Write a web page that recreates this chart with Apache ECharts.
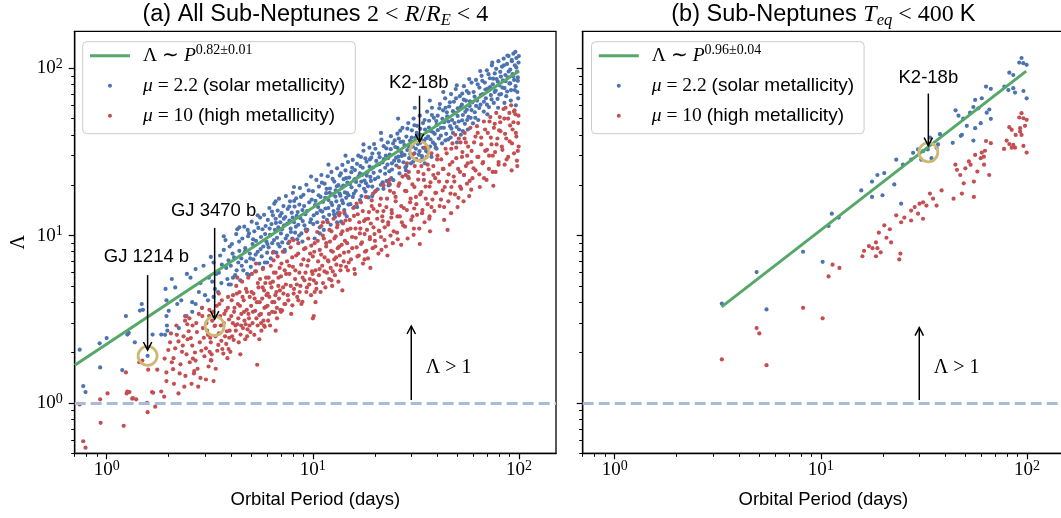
<!DOCTYPE html>
<html><head><meta charset="utf-8">
<script src="https://cdn.jsdelivr.net/npm/echarts@6.0.0/dist/echarts.min.js"></script>
<style>html,body{margin:0;padding:0;background:#fff}#c{width:1061px;height:518px}</style>
</head><body><div id="c"></div>
<script>
// ---------- data ----------
const xMajor = [1, 10, 100];
const yMajor = [1, 10, 100];
const xMinor = [0.7,0.8,0.9,2,3,4,5,6,7,8,9,20,30,40,50,60,70,80,90];
const yMinor = [0.5,0.6,0.7,0.8,0.9,2,3,4,5,6,7,8,9,20,30,40,50,60,70,80,90];
const xRange = [0.7, 151];
const yRange = [0.5, 166];
const threshold = 1;

const blueA = [
[0.74,2.08],[0.77,1.26],[0.79,1.16],[0.925,2.27],[0.93,1.63],[1.0,2.44],
[1.19,1.57],[1.24,3.3],[1.26,2.56],[1.28,2.62],[1.37,2.3],[1.45,3.56],[1.48,3.9],
[1.5,3.6],[1.58,1.91],[1.67,2.56],[1.84,2.56],[1.92,2.55],[1.93,4.8],[1.95,4.1],[1.95,3.3],[1.96,2.9],[1.97,2.7],
[2.0,3.55],[2.07,5.5],[2.15,4.9],[2.2,3.9],[2.24,2.8],[2.3,4.1],[2.44,3.3],[2.45,5.9],[2.55,5.6],[2.6,4.0],[2.6,3.5],[2.7,6.3],[2.7,3.9],[2.8,4.6],[2.85,5.2],[2.9,3.7],[2.95,6.6],
[3.0,4.4],[3.1,4.1],[3.2,7.45],[3.25,5.3],[3.3,6.9],[3.35,4.8],[3.4,5.9],[3.5,6.0],[3.55,7.6],[3.6,5.2],[3.7,8.2],[3.77,9.4],[3.8,6.4],[3.85,5.5],[3.9,7.1],[3.95,8.6],
[4.0,6.6],[4.05,8.9],[4.1,5.6],[4.15,7.4],[4.2,5.8],[4.25,10.2],[4.3,10.9],[4.35,6.9],[4.4,8.1],[4.45,5.4],[4.5,7.3],[4.55,9.6],[4.6,6.2],[4.65,11.3],[4.7,8.4],[4.75,7.0],[4.8,5.9],[4.85,9.9],[4.9,10.3],[4.95,7.8],[5.0,6.5],[5.05,12.1],[5.1,8.9],[5.15,7.2],[5.2,10.6],[5.25,6.1],[5.3,9.3],[5.35,11.8],[5.4,8.0],[5.5,6.8],[5.55,12.8],[5.6,9.8],[5.65,7.5],[5.7,10.9],[5.75,8.6],[5.8,13.3],[5.85,6.9],[5.9,11.4],[5.95,9.2],[6.0,7.9],
[6.05,12.4],[6.1,8.5],[6.15,14.6],[6.2,10.1],[6.25,7.3],[6.3,11.7],[6.35,9.0],[6.4,13.2],[6.45,8.0],[6.5,15.5],[6.55,10.8],[6.6,12.6],[6.65,7.9],[6.7,9.7],[6.75,14.1],[6.8,11.2],[6.85,16.6],[6.9,8.6],[6.95,12.0],[7.0,10.3],[7.05,13.6],[7.1,9.1],[7.2,15.0],[7.25,11.5],[7.3,8.2],[7.35,12.9],[7.4,17.2],[7.5,10.0],[7.55,14.4],[7.6,9.0],[7.7,12.3],[7.75,16.0],[7.8,11.0],[7.9,13.7],[7.95,9.6],[8.0,18.0],[8.1,12.0],[8.15,14.9],[8.2,10.4],[8.3,16.7],[8.35,13.1],[8.4,9.5],[8.5,11.6],[8.6,15.3],[8.65,19.2],[8.7,12.7],[8.8,10.3],[8.9,14.2],[9.0,17.5],[9.1,11.5],[9.2,13.4],[9.3,20.1],[9.4,10.8],[9.6,15.8],[9.8,12.5],
[10.0,18.4],[10.1,13.2],[10.2,9.6],[10.3,16.1],[10.4,21.5],[10.5,12.0],[10.6,14.8],[10.7,19.6],[10.8,11.2],[10.9,17.0],[11.0,23.0],[11.1,13.9],[11.2,15.9],[11.3,10.8],[11.4,20.4],[11.5,14.5],[11.6,17.9],[11.7,12.4],[11.8,22.6],[11.9,16.3],[12.0,13.3],[12.1,19.1],[12.2,11.6],[12.3,24.0],[12.4,15.2],[12.5,17.6],[12.6,14.0],[12.7,21.0],[12.8,12.9],[12.9,18.6],[13.0,16.0],[13.1,25.2],[13.2,13.6],[13.3,20.0],[13.4,15.0],[13.5,22.8],[13.6,17.3],[13.7,12.1],[13.8,19.3],[13.9,26.4],[14.0,15.6],[14.1,21.7],[14.2,14.2],[14.3,18.1],[14.4,24.5],[14.5,16.8],[14.6,13.0],[14.7,20.7],[14.8,27.5],[14.9,17.4],
[15.0,22.2],[15.2,15.4],[15.4,19.4],[15.6,28.3],[15.8,17.8],[16.0,24.6],[16.2,20.9],[16.4,14.8],[16.6,30.0],[16.8,19.9],[17.0,26.0],[17.2,17.2],[17.4,23.1],[17.6,32.1],[17.8,21.3],[18.0,18.3],[18.2,27.6],[18.4,24.0],[18.6,16.9],[18.8,33.5],[19.0,22.4],[19.2,29.2],[19.4,19.6],[19.6,25.5],[19.8,35.2],[20.0,21.7],[20.3,27.9],[20.6,18.9],[20.9,31.0],[21.2,24.3],[21.5,37.4],[21.8,20.8],[22.1,28.6],[22.4,23.4],[22.7,33.2],[23.0,26.5],[23.3,19.9],[23.6,30.4],[23.9,39.2],[24.2,24.8],[24.5,35.5],[24.8,28.0],[16.1,21.8],[17.1,29.5],[18.1,20.5],[19.1,24.9],[20.1,33.0],[21.0,26.7],[22.0,19.0],[23.1,36.0],[24.0,22.0],[15.5,25.4],[16.9,23.5],[18.9,28.5],[22.6,30.0],
[25.1,33.8],[25.4,26.2],[25.7,40.6],[26.0,29.6],[26.3,23.5],[26.6,36.2],[26.9,31.4],[27.2,44.0],[27.5,27.4],[27.8,34.7],[28.1,25.5],[28.4,39.0],[28.7,32.4],[29.0,47.0],[29.3,29.0],[29.6,36.9],[29.9,27.0],[30.2,42.5],[30.5,34.0],[30.8,50.0],[31.1,31.0],[31.4,38.5],[31.7,28.6],[32.0,45.2],[32.3,35.2],[32.9,31.9],[33.0,52.0],[33.4,40.0],[33.8,29.8],[34.2,47.0],[34.6,36.8],[35.0,43.0],[35.4,32.0],[35.8,55.0],[36.2,39.0],[36.6,48.5],[37.0,34.0],[37.4,42.0],[37.8,58.0],[38.2,36.0],[38.6,50.5],[39.0,40.5],[39.4,33.5],[39.8,45.8],[26.1,38.0],[28.9,22.5],[31.9,41.0],[34.9,27.0],[37.6,29.5],[33.2,35.8],
[40.3,52.0],[40.8,38.0],[41.3,61.0],[41.8,44.0],[42.3,35.5],[42.8,56.0],[43.3,47.5],[43.8,66.0],[44.3,40.5],[44.8,51.5],[45.3,37.5],[45.8,59.0],[46.3,45.0],[46.8,70.0],[47.3,49.0],[47.8,41.0],[48.3,63.0],[48.8,54.0],[49.3,75.0],[49.8,44.5],[50.4,57.5],[51.0,48.0],[51.6,68.0],[52.2,40.0],[52.8,60.5],[53.4,52.5],[54.0,78.0],[54.6,46.5],[55.2,64.0],[55.8,56.5],[56.4,43.0],[57.0,71.0],[57.6,59.5],[58.2,50.5],[58.8,82.0],[59.4,62.5],[44.0,58.0],[50.0,36.0],[53.0,70.5],[56.0,49.0],
[60.2,72.0],[61.0,54.5],[61.8,85.0],[62.6,64.0],[63.4,49.0],[64.2,76.5],[65.0,60.5],[65.8,90.0],[66.6,70.0],[67.4,55.0],[68.2,82.0],[69.0,66.0],[69.8,97.0],[70.6,75.5],[71.4,58.5],[72.2,87.0],[73.0,69.0],[73.8,104.0],[74.6,80.0],[75.4,62.0],[76.2,93.0],[77.0,73.5],[77.8,86.0],[78.6,65.5],[79.4,110.0],[80.2,79.0],[81.0,95.0],[81.8,70.0],[82.6,102.0],[83.4,84.5],[84.2,114.0],[85.0,76.0],[85.8,91.0],[86.6,68.0],[87.4,106.0],[88.2,88.0],[89.0,118.0],[89.8,81.0],[90.6,98.0],[91.4,74.0],[92.2,110.0],[93.0,92.0],[93.8,122.0],[94.6,85.0],[95.4,104.0],[96.2,78.0],[97.0,115.0],[97.8,95.5],[98.6,88.0],[99.4,108.0],[99.0,66.0],[96.5,60.0]
];

const blueA2 = [
[3.13,5.6],[3.47,4.6],[3.62,6.7],[3.91,5.1],[4.08,7.8],[4.27,6.2],[4.39,9.2],[4.52,6.6],[4.68,8.0],[4.83,10.8],[4.97,7.3],[5.13,9.5],[5.28,7.7],[5.44,11.1],[5.58,8.3],[5.73,6.4],[5.87,10.2],[6.02,8.9],[6.17,11.0],[6.33,13.9],[6.48,9.4],[6.62,11.9],[6.78,8.9],[6.93,13.1],[7.08,10.9],[7.23,12.6],[7.38,9.6],[7.52,11.8],[7.68,14.9],[7.83,10.5],[7.98,12.8],[8.12,16.1],[8.27,11.3],[8.44,13.8],[8.58,10.0],[8.76,17.0],[8.93,12.2],[9.07,15.0],[9.24,10.9],[9.38,14.0],[9.55,18.6],[9.71,12.0],[9.87,16.4],
[10.05,11.7],[10.24,15.2],[10.46,13.6],[10.67,17.4],[10.88,14.1],[11.06,20.7],[11.27,12.9],[11.48,16.8],[11.66,19.0],[11.88,14.6],[12.07,18.0],[12.28,15.7],[12.47,21.8],[12.68,13.4],[12.86,17.1],[13.07,19.7],[13.26,14.4],[13.48,17.8],[13.67,23.5],[13.86,16.2],[14.05,19.9],[14.27,13.5],[14.48,22.0],[14.66,17.9],[14.87,15.3],
[15.13,20.3],[15.37,23.9],[15.62,17.0],[15.88,21.6],[16.13,18.5],[16.37,26.8],[16.65,22.6],[16.91,16.3],[17.18,21.0],[17.44,25.4],[17.71,19.0],[17.97,28.9],[18.26,22.8],[18.52,19.7],[18.83,25.8],[19.12,21.2],[19.43,30.9],[19.71,23.7],[20.04,18.3],[20.38,26.3],[20.72,22.3],[21.07,29.4],[21.38,20.1],[21.74,27.3],[22.06,34.2],[22.43,25.4],[22.78,21.2],[23.14,29.0],[23.47,24.2],[23.85,32.8],[24.17,27.0],[24.56,21.4],[24.93,37.0],
[25.33,29.2],[25.72,33.4],[26.14,27.9],[26.52,42.3],[26.97,29.9],[27.38,36.4],[27.83,30.3],[28.27,24.5],[28.73,43.5],[29.18,34.1],[29.66,30.7],[30.13,38.5],[30.62,27.6],[31.08,45.6],[31.57,33.0],[32.12,39.5],[32.64,30.4],[33.17,43.4],[33.69,37.2],[34.26,33.4],[34.83,49.0],[35.37,38.0],[35.98,31.6],[36.54,44.2],[37.17,37.6],[37.77,52.5],[38.39,41.2],[39.05,35.0],[39.66,48.3],
[40.35,42.6],[41.04,57.5],[41.74,39.5],[42.46,49.8],[43.16,44.0],[43.92,37.0],[44.63,54.5],[45.42,48.0],[46.19,62.5],[46.98,43.5],[47.78,55.3],[48.63,47.0],[49.45,66.0],[50.33,51.8],[51.17,43.0],[52.08,58.6],[52.97,48.8],[53.91,64.8],[54.85,54.8],[55.78,73.0],[56.76,51.2],[57.74,63.4],[58.75,56.2],[59.77,46.8],
[60.83,67.5],[61.87,59.5],[62.98,80.0],[64.06,57.8],[65.18,69.0],[66.32,84.0],[67.48,63.0],[68.67,74.5],[69.85,60.5],[71.07,92.0],[72.33,77.0],[73.56,65.0],[74.86,86.5],[76.16,72.0],[77.46,99.0],[78.84,83.0],[80.21,69.5],[81.59,89.0],[83.03,76.5],[84.46,104.0],[85.92,83.5],[87.43,72.5],[88.96,95.5],[90.49,81.0],[92.07,112.0],[93.68,89.5],[95.32,74.0],[96.95,101.0],[98.64,84.0],[99.7,118.0],[98.1,72.0],[95.9,125.0],[91.2,64.0],[87.8,119.0],[84.9,62.0],[79.1,58.0],[74.1,108.0],[70.2,53.0],[64.8,96.0],[61.3,50.5],[57.3,86.0],[53.4,42.0],[49.9,79.0],[46.6,38.5],[42.9,72.0],[39.8,33.0],[36.9,64.0],[33.9,28.5],[31.2,58.0],[28.4,26.0],[25.9,50.0],[23.6,20.2],[21.4,41.0],[19.4,17.2],[17.6,35.0],[15.9,14.8],[14.4,30.0],[13.1,12.0],[11.9,26.5],[10.8,10.3],[9.8,22.5],[8.9,9.2],[8.1,19.5],[7.3,8.0],[6.6,16.0],[6.0,6.9],[5.4,13.2],[4.9,5.8],[4.4,11.2],[4.0,5.1],[3.7,9.9],[3.3,4.3]
];

const redA = [
[0.74,0.98],[0.77,0.59],[0.79,0.54],[0.935,0.76],[0.93,1.05],[1.01,1.14],
[1.21,0.73],[1.25,1.14],[1.29,1.16],[1.34,1.07],[1.24,1.52],[1.26,1.17],[1.33,1.06],[1.39,1.05],[1.44,1.75],[1.49,1.79],[1.57,1.0],[1.58,0.88],[1.59,1.58],[1.68,1.15],[1.76,1.58],[1.66,1.16],[1.84,1.17],[1.9,1.09],[1.95,1.52],[1.91,1.84],[1.99,2.07],[1.95,1.35],[1.72,0.95],
[2.07,1.75],[2.1,1.59],[2.23,1.14],[2.15,2.12],[2.23,2.33],[2.32,2.02],[2.41,1.45],[2.46,2.95],[2.5,2.68],[2.56,2.44],[2.62,1.84],[2.7,1.79],[2.85,1.41],[2.93,2.8],[2.05,2.6],[2.12,1.3],[2.18,2.9],[2.28,1.7],[2.36,2.5],[2.44,1.95],[2.52,3.2],[2.6,2.2],[2.66,1.55],[2.74,2.65],[2.8,3.4],[2.88,2.05],[2.96,2.45],[2.78,1.25],[2.58,1.3],[2.4,3.1],
[3.03,1.38],[3.3,1.35],[3.03,2.12],[3.16,2.02],[3.22,1.79],[3.48,2.22],[3.68,1.97],[3.83,2.68],[3.98,2.02],[3.05,3.0],[3.1,2.55],[3.15,3.6],[3.2,2.3],[3.25,3.1],[3.34,2.88],[3.35,2.9],[3.38,1.6],[3.42,3.8],[3.5,2.6],[3.55,3.3],[3.6,2.35],[3.62,4.1],[3.7,3.0],[3.75,2.5],[3.78,3.55],[3.85,1.85],[3.88,4.3],[3.92,3.15],[3.95,2.7],[3.12,1.65],
[4.02,3.3],[4.06,2.5],[4.1,4.4],[4.13,2.38],[4.17,3.7],[4.21,2.9],[4.25,5.0],[4.3,2.95],[4.33,3.9],[4.37,2.3],[4.41,4.6],[4.46,2.56],[4.5,3.4],[4.54,5.3],[4.58,2.8],[4.62,4.1],[4.66,3.1],[4.7,2.4],[4.74,4.8],[4.78,3.6],[4.82,2.75],[4.86,5.6],[4.9,3.2],[4.94,4.3],[4.98,2.65],[5.02,3.8],[5.06,5.9],[5.1,3.0],[5.15,4.5],[5.2,2.55],[5.25,3.55],[5.3,6.1],[5.35,4.0],[5.37,1.69],[5.4,2.9],[5.45,4.9],[5.5,3.35],[5.55,5.5],[5.6,3.4],[5.63,2.7],[5.68,4.2],[5.72,6.3],[5.76,3.1],[5.8,4.7],[5.84,2.85],[5.88,5.2],[5.92,3.75],[5.96,4.4],[5.5,2.4],[4.45,1.95],
[6.03,3.8],[6.07,3.1],[6.1,5.6],[6.15,4.3],[6.2,2.9],[6.25,6.6],[6.3,4.9],[6.35,3.5],[6.4,5.3],[6.45,7.1],[6.5,4.0],[6.55,3.48],[6.6,6.0],[6.65,4.6],[6.7,3.2],[6.75,7.5],[6.8,5.0],[6.85,4.2],[6.9,6.4],[6.95,3.6],[7.0,5.7],[7.09,3.57],[7.15,8.0],[7.2,4.5],[7.3,6.2],[7.35,3.9],[7.4,5.1],[7.5,7.0],[7.6,4.1],[7.7,5.9],[7.8,8.5],[7.85,3.4],[7.95,3.83],[8.0,6.5],[8.1,4.8],[8.2,5.5],[8.3,7.6],[8.4,4.3],[8.5,9.0],[8.6,6.0],[8.7,5.0],[8.8,3.9],[8.9,4.02],[9.0,7.2],[9.1,5.4],[9.2,8.4],[9.3,4.6],[9.4,6.6],[9.5,9.6],[9.6,5.1],[9.7,7.8],[9.8,4.4],[9.9,6.1],[8.05,9.4],[6.6,2.7],
[10.0,3.2],[10.1,3.3],[10.3,4.0],[10.0,7.5],[10.1,5.4],[10.2,9.0],[10.3,6.2],[10.4,4.8],[10.5,10.5],[10.6,7.0],[10.7,5.8],[10.8,8.2],[10.9,4.6],[11.0,11.4],[11.1,6.6],[11.2,5.2],[11.3,9.6],[11.4,7.4],[11.5,4.9],[11.6,8.6],[11.7,6.0],[11.8,12.0],[11.9,7.0],[12.0,5.5],[12.1,9.2],[12.2,6.4],[12.3,10.6],[12.4,5.0],[12.5,8.0],[12.6,12.6],[12.7,7.2],[12.8,5.8],[12.9,9.9],[13.0,6.7],[13.1,11.2],[13.2,8.4],[13.3,5.3],[13.4,13.2],[13.5,7.6],[13.6,6.2],[13.7,10.2],[13.8,8.8],[13.9,4.7],[14.0,11.8],[14.1,7.0],[14.2,13.8],[14.3,9.3],[14.5,6.5],[14.7,10.8],[14.9,8.0],
[15.1,12.4],[15.3,7.2],[15.5,9.8],[15.7,14.6],[15.9,6.3],[16.1,11.0],[16.3,8.5],[16.5,13.4],[16.7,7.6],[16.9,10.3],[17.1,15.8],[17.3,9.1],[17.5,6.8],[17.7,12.2],[17.9,8.0],[18.1,17.0],[18.3,10.8],[18.5,7.3],[18.7,13.8],[18.9,9.5],[19.1,11.8],[19.3,16.2],[19.5,8.4],[19.7,14.4],[19.9,10.2],[20.2,18.5],[20.5,12.6],[20.8,7.8],[21.1,15.2],[21.4,9.8],[21.7,13.0],[22.0,20.0],[22.3,11.2],[22.6,8.6],[22.9,16.6],[23.2,12.0],[23.5,21.5],[23.8,10.0],[24.1,14.2],[24.4,9.0],[24.7,18.0],[16.0,5.9],[18.0,12.5],[20.0,9.3],[21.0,10.6],[22.0,14.0],[23.0,7.6],[24.0,12.8],[19.0,6.4],[17.0,11.0],
[25.2,16.0],[25.6,10.4],[26.0,19.8],[26.4,13.0],[26.8,8.8],[27.2,22.5],[27.6,14.6],[28.0,11.3],[28.4,18.4],[28.8,9.6],[29.2,24.0],[29.6,15.8],[30.0,12.4],[30.4,20.2],[30.8,10.1],[31.2,26.0],[31.6,17.0],[32.0,13.3],[32.4,21.6],[32.8,11.0],[33.2,28.0],[33.6,18.2],[34.0,14.2],[34.4,23.3],[34.8,12.0],[35.2,19.6],[35.6,29.5],[36.0,15.4],[36.4,24.8],[36.8,13.0],[37.2,20.8],[37.6,31.0],[38.0,16.4],[38.4,26.0],[38.8,14.0],[39.2,22.0],[39.6,18.0],[26.2,25.5],[28.6,27.0],[30.6,30.5],[33.0,8.9],[35.0,33.5],[37.0,10.6],[27.0,12.0],[31.0,14.5],
[40.5,23.5],[41.2,15.0],[41.9,28.5],[42.6,18.6],[43.3,12.4],[44.0,33.0],[44.7,21.0],[45.4,16.0],[46.1,26.5],[46.8,13.6],[47.5,35.5],[48.2,22.5],[48.9,17.6],[49.6,29.0],[50.3,14.8],[51.0,38.0],[51.7,24.0],[52.4,19.0],[53.1,31.5],[53.8,16.0],[54.5,41.0],[55.2,26.0],[55.9,20.4],[56.6,34.0],[57.3,17.2],[58.0,44.0],[58.7,27.5],[59.4,22.0],[43.0,25.0],[47.0,19.5],[52.0,36.0],[56.0,30.0],[49.0,40.0],[45.0,10.8],[54.0,23.0],
[60.5,36.0],[61.5,24.5],[62.5,45.0],[63.5,29.5],[64.5,19.5],[65.5,38.5],[66.5,27.0],[67.5,48.0],[68.5,32.0],[69.5,21.5],[70.5,41.0],[71.5,30.0],[72.5,51.0],[73.5,35.0],[74.5,24.0],[75.5,44.0],[76.5,31.5],[77.5,54.0],[78.5,38.0],[79.5,26.5],[81.0,47.5],[82.5,34.0],[84.0,57.0],[85.5,40.5],[87.0,28.5],[88.5,50.0],[90.0,36.5],[91.5,60.0],[93.0,43.0],[94.5,31.0],[96.0,53.0],[97.0,39.0],[98.0,26.0],[99.0,47.0],[99.5,34.0],[92.0,24.5],[86.0,58.0],[80.0,42.5],[75.0,19.8],[95.0,56.0]
];

const redA2 = [
[2.03,2.3],[2.11,1.85],[2.19,2.55],[2.26,1.5],[2.34,2.2],[2.38,1.25],[2.47,2.4],[2.53,1.75],[2.61,2.9],[2.68,2.0],[2.72,3.0],[2.76,1.6],[2.83,2.3],[2.91,3.3],[2.98,1.9],[3.07,2.7],[3.14,3.3],[3.18,2.45],[3.23,1.95],[3.29,3.5],[3.37,2.5],[3.44,2.05],[3.52,3.9],[3.58,2.9],[3.64,2.1],[3.72,3.4],[3.8,2.25],[3.87,3.7],[3.93,2.45],
[4.04,4.1],[4.09,3.0],[4.15,3.5],[4.23,2.7],[4.28,4.5],[4.35,3.2],[4.43,3.8],[4.49,2.9],[4.56,4.3],[4.64,3.5],[4.72,2.95],[4.79,4.6],[4.87,3.4],[4.93,2.9],[5.04,4.6],[5.12,3.5],[5.22,4.2],[5.32,3.2],[5.41,5.2],[5.52,4.0],[5.61,3.0],[5.71,4.9],[5.82,3.7],[5.93,5.6],
[6.04,4.5],[6.13,3.4],[6.22,5.2],[6.36,4.0],[6.47,6.0],[6.58,4.4],[6.69,3.7],[6.81,5.6],[6.92,4.7],[7.04,6.8],[7.17,4.9],[7.28,3.9],[7.42,5.9],[7.56,4.4],[7.68,6.6],[7.81,5.0],[7.94,7.4],[8.07,4.5],[8.22,6.2],[8.36,5.1],[8.49,7.8],[8.63,4.6],[8.78,6.7],[8.92,5.6],[9.06,8.3],[9.21,6.0],[9.36,4.9],[9.51,7.1],[9.67,5.5],[9.83,8.7],[9.97,5.9],
[10.15,8.0],[10.37,5.2],[10.56,9.3],[10.78,6.3],[10.97,7.7],[11.18,10.0],[11.38,6.1],[11.61,9.0],[11.83,7.1],[12.04,10.8],[12.26,8.1],[12.49,6.1],[12.72,9.6],[12.95,7.4],[13.18,11.6],[13.43,8.6],[13.66,6.6],[13.91,10.6],[14.16,7.9],[14.4,12.3],[14.66,9.0],[14.92,6.9],
[15.22,11.0],[15.51,8.4],[15.83,13.1],[16.14,9.7],[16.45,7.5],[16.79,12.0],[17.12,8.9],[17.46,14.0],[17.82,10.2],[18.17,8.1],[18.54,12.6],[18.91,9.8],[19.29,15.0],[19.68,11.2],[20.09,8.6],[20.52,13.9],[20.93,10.7],[21.36,16.6],[21.8,12.2],[22.25,9.4],[22.72,14.8],[23.18,11.6],[23.66,18.5],[24.16,13.6],[24.66,10.6],
[25.18,17.0],[25.72,13.0],[26.27,20.5],[26.82,15.0],[27.4,11.5],[27.98,18.5],[28.57,14.2],[29.17,22.0],[29.8,16.6],[30.43,13.0],[31.08,19.5],[31.75,15.4],[32.42,24.0],[33.12,17.6],[33.83,13.6],[34.55,21.5],[35.28,16.6],[36.04,26.5],[36.81,19.6],[37.59,14.8],[38.39,23.0],[39.22,18.0],
[40.06,28.5],[40.91,21.0],[41.79,16.4],[42.69,25.0],[43.61,19.5],[44.55,31.0],[45.51,23.2],[46.49,17.8],[47.49,27.5],[48.52,21.0],[49.57,33.5],[50.64,25.0],[51.74,19.6],[52.86,29.5],[54.01,23.0],[55.18,36.0],[56.38,27.0],[57.6,21.2],[58.85,32.0],
[60.13,25.2],[61.44,39.0],[62.77,29.5],[64.14,23.2],[65.53,35.0],[66.95,27.5],[68.41,43.0],[69.89,32.5],[71.41,25.0],[72.96,38.5],[74.55,30.0],[76.17,46.5],[77.82,35.0],[79.51,27.5],[81.24,42.0],[83.01,32.5],[84.81,50.0],[86.66,38.0],[88.54,29.5],[90.47,45.5],[92.44,35.5],[94.45,55.0],[96.51,41.0],[98.62,32.0],[99.3,52.0],[97.6,28.0],[93.9,47.5],[89.7,54.0],[85.1,26.5],[80.6,51.0],[76.9,24.0],[71.9,48.0],[67.6,22.0],[63.0,41.0],[58.6,18.8],[54.4,38.0],[50.8,16.8],[46.9,33.0],[43.3,14.8],[40.2,30.0],[36.7,12.6],[33.6,26.0],[30.9,11.0],[28.2,23.0],[25.8,9.5],[23.4,20.5],[21.5,8.2],[19.6,17.8],[17.8,7.2],[16.3,15.5],[14.8,6.2],[13.5,13.6],[12.3,5.4],[11.2,12.0],[10.2,4.6],[9.3,10.6],[8.5,4.1],[7.7,9.2],[7.0,3.5],[6.4,7.9],[5.8,2.9],[5.3,6.8],[4.8,2.5],[4.3,5.6],[3.9,2.1],[3.5,4.5],[3.2,1.8],[2.9,3.7],[2.65,1.5],[2.4,3.3]
];

const blueB = [
[94,115],[91.6,108],[95.9,107],[99.5,104.7],[82,94],[85.7,91],[96,73],[99.5,66],[77.6,77.6],[81.1,74],[87.4,71.5],[85.7,75.9],[63.2,77.6],[66.7,75.2],[56,64.6],[60.3,66.1],[58,57.5],[65.6,56.6],[63.7,54.2],[52.9,54.2],[54.9,58.5],[66.7,49.8],[51,45.2],[56,43.8],[59.6,46.9],[47.7,39.4],[54.9,36.9],
[49,50],[48.3,40],[45,56],[46.5,52],[43.6,35.8],[37.8,40.3],[37,35],[33.8,38.5],[33,32.7],[31.3,31.9],[29.6,32.7],[28,31.2],[27.4,28.4],[30.7,28.4],[34.4,29],[36.4,33.4],[23.2,28.4],[25,26.5],[20.3,23.6],[18.8,23],[17.7,21],[22.7,20.2],[15.7,18.6],[17.7,17],[19.9,17.4],[24.5,15.5],[11.3,13.5],[10.9,11.4],[12.2,12.8],[8.2,8.0],[10.2,6.96],[4.88,6.05],[5.45,3.62],[3.31,3.92]
];

const redB = [
[94,53.8],[91.6,50.7],[96,50.2],[99.5,49.1],[97.7,45.2],[92.5,43.8],[82,44.4],[84.2,42.8],[88,39.9],[92.5,41.8],[94,39.9],[79.6,36.9],[82,35.2],[85.7,34.8],[87.4,33.5],[96,34.3],[99.5,31.3],[63.2,36.7],[66.7,35.6],[62.5,32.1],[77.3,32.9],[84.2,33.5],[56,30.3],[60.3,31.3],[61.7,29.6],[59.6,29],[65.5,23],[61.8,26.5],
[57.4,24.1],[53.2,26.5],[52.2,27.7],[50.2,25.2],[55.2,21],[49.3,20.5],[47.4,23],[44.9,26.5],[45.7,24.7],[55.2,17],[48.3,17.8],[44,16.6],[38.5,18.6],[35,16.6],[31.3,15.8],[33.8,17.8],[32.5,15.1],[30.1,15.5],[28.5,14.8],[27.4,14.1],[29.6,13.5],[27.4,12.3],[25.4,12.8],[24.5,12],[31.3,12.6],[36.4,15.1],[23.2,13.2],[21.6,10.9],[20.3,11.5],[19.1,10.4],[20.8,9.7],[21.9,9.1],[18.5,9.1],[18.8,8.4],[19.5,7.94],[17.1,8.65],[15.9,7.52],[18.5,7.52],[24,7.2],[16.2,8.1],[17.8,8.4],[24.3,7.8],[11.4,6.7],[12.3,6.4],[10.9,5.7],[8.2,3.7],[10.2,3.2],[4.88,2.8],[5.03,2.6],[3.31,1.82],[5.45,1.68]
];

const fitA = [[0.7,1.68],[100,96]];
const fitB = [[3.3,3.75],[99,96]];

// annotations (data coordinates)
const circlesA = [[1.58,1.91],[3.34,2.88],[32.9,31.9]];
const arrowsA  = [[1.58,5.8,2.07],[3.34,11.1,3.17],[32.9,68.4,36.2],[30,1.04,2.88]];
const labelsA  = [[1.56,7.43,'GJ 1214 b'],[3.3,14.1,'GJ 3470 b'],[32.6,82,'K2-18b']];
const circlesB = [[33.2,31.4]];
const arrowsB  = [[33.2,70.5,34.4],[30,1.04,2.82]];
const labelsB  = [[33.2,88,'K2-18b']];
const thresholdText = [[45.5,1.63,'Λ > 1']];

const legendText = {
  fitA: '{m|Λ ∼ }{mi|P}{sup|0.82±0.01}',
  fitB: '{m|Λ ∼ }{mi|P}{sup|0.96±0.04}',
  solarA: '{mi|μ}{m| = 2.2 }{t|(solar metallicity)}',
  solarB: '{mi|μ}{m| = 2.2 }{t|(solar metallicity)}',
  highA: '{mi|μ}{m| = 10 }{t|(high metallicity)}',
  highB: '{mi|μ}{m| = 10 }{t|(high metallicity)}'
};

// ---------- styling ----------
const SANS = 'Liberation Sans';
const SERIF = 'Liberation Serif';
const BLUE = '#4c72b0', RED = '#c44e52', GREEN = '#55a868', GOLD = '#ccb974';
const GRID_TOP = 31.3, GRID_H = 422, GRID_W = 481.3;
const gridLefts = [74.7, 582.7];

const tickRich = {
  b: {fontFamily: SERIF, fontSize: 19, lineHeight: 22, color: '#000'},
  s: {fontFamily: SERIF, fontSize: 14, lineHeight: 13, verticalAlign: 'top', color: '#000'}
};
const powFmt = v => '{b|10}{s|' + Math.round(Math.log10(v)) + '}';

function majorX(gi) {
  return {type: 'log', gridIndex: gi, min: xRange[0], max: xRange[1],
    axisLine: {show: true, lineStyle: {color: '#000', width: 1.3}},
    axisTick: {show: true, length: 6, lineStyle: {color: '#000', width: 1.2}, customValues: xMajor},
    axisLabel: {show: true, customValues: xMajor, formatter: powFmt, margin: 6, rich: tickRich},
    splitLine: {show: false}, minorTick: {show: false},
    name: 'Orbital Period (days)', nameLocation: 'middle', nameGap: 37, nameMoveOverlap: false,
    nameTextStyle: {fontFamily: SANS, fontSize: 18.5, color: '#000'}};
}
function minorX(gi) {
  return {type: 'log', gridIndex: gi, min: xRange[0], max: xRange[1], position: 'bottom',
    axisLine: {show: false},
    axisTick: {show: true, length: 3.5, lineStyle: {color: '#000', width: 1}, customValues: xMinor},
    axisLabel: {show: false}, splitLine: {show: false}};
}
function majorY(gi, labels) {
  const ax = {type: 'log', gridIndex: gi, min: yRange[0], max: yRange[1],
    axisLine: {show: true, lineStyle: {color: '#000', width: 1.3}},
    axisTick: {show: true, length: 6, lineStyle: {color: '#000', width: 1.2}, customValues: yMajor},
    axisLabel: {show: labels, customValues: yMajor, formatter: powFmt, margin: 12, rich: tickRich},
    splitLine: {show: false}};
  if (labels) {
    Object.assign(ax, {name: 'Λ', nameLocation: 'middle', nameGap: 46, nameRotate: 90, nameMoveOverlap: false,
      nameTextStyle: {fontFamily: SERIF, fontSize: 20, color: '#000'}});
  }
  return ax;
}
function minorY(gi) {
  return {type: 'log', gridIndex: gi, min: yRange[0], max: yRange[1], position: 'left',
    axisLine: {show: false},
    axisTick: {show: true, length: 3.5, lineStyle: {color: '#000', width: 1}, customValues: yMinor},
    axisLabel: {show: false}, splitLine: {show: false}};
}

function scatter(name, data, color, ai, withLine) {
  const s = {type: 'scatter', name, data, xAxisIndex: ai, yAxisIndex: ai, symbolSize: 4.2,
    itemStyle: {color, opacity: 1}, silent: true, z: 2, animation: false, large: false};
  if (withLine) {
    s.markLine = {silent: true, symbol: ['none', 'none'], label: {show: false}, animation: false,
      lineStyle: {type: [11, 5], color: '#a9bbdb', width: 2.8}, emphasis: {disabled: true},
      data: [{yAxis: threshold}]};
  }
  return s;
}
function fitLine(name, data, ai) {
  return {type: 'line', name, data, xAxisIndex: ai, yAxisIndex: ai, symbol: 'none', silent: true, z: 3,
    lineStyle: {color: GREEN, width: 3}, itemStyle: {color: GREEN}, animation: false};
}
function circles(data, ai) {
  return {type: 'custom', xAxisIndex: ai, yAxisIndex: ai, data, silent: true, z: 5, clip: false,
    encode: {x: 0, y: 1}, animation: false,
    renderItem: (p, api) => {
      const c = api.coord([api.value(0), api.value(1)]);
      return {type: 'circle', shape: {cx: c[0], cy: c[1], r: 9.5},
        style: {fill: 'none', stroke: GOLD, lineWidth: 2.8}};
    }};
}
function arrows(data, ai) {
  return {type: 'custom', xAxisIndex: ai, yAxisIndex: ai, data, silent: true, z: 6, clip: false,
    encode: {x: 0, y: [1, 2]}, animation: false,
    renderItem: (p, api) => {
      const x = api.value(0);
      const a = api.coord([x, api.value(1)]), b = api.coord([x, api.value(2)]);
      const dir = b[1] > a[1] ? 1 : -1, hl = 8, hw = 4.2;
      return {type: 'group', children: [
        {type: 'line', shape: {x1: a[0], y1: a[1], x2: b[0], y2: b[1]}, style: {stroke: '#000', lineWidth: 1.5}},
        {type: 'polyline', shape: {points: [[b[0] - hw, b[1] - dir * hl], [b[0], b[1]], [b[0] + hw, b[1] - dir * hl]]},
          style: {stroke: '#000', lineWidth: 1.5, fill: 'none'}}
      ]};
    }};
}
function labels(data, ai, font) {
  return {type: 'custom', xAxisIndex: ai, yAxisIndex: ai, data: data.map(d => [d[0], d[1]]),
    silent: true, z: 6, clip: false, encode: {x: 0, y: 1}, animation: false,
    renderItem: (p, api) => {
      const c = api.coord([api.value(0), api.value(1)]);
      return {type: 'text', x: c[0], y: c[1],
        style: {text: data[p.dataIndex][2], font, fill: '#000', align: 'center', verticalAlign: 'middle',
          textAlign: 'center', textVerticalAlign: 'middle'}};
    }};
}

const legendRich = {
  m: {fontFamily: SERIF, fontSize: 19.5, lineHeight: 24, color: '#000'},
  mi: {fontFamily: SERIF, fontStyle: 'italic', fontSize: 19.5, lineHeight: 24, color: '#000'},
  t: {fontFamily: SANS, fontSize: 19, lineHeight: 24, color: '#000'},
  sup: {fontFamily: SERIF, fontSize: 14, lineHeight: 13, verticalAlign: 'top', color: '#000'}
};
const lineIcon = 'path://M0,0h0.01v0.01h-0.01z M48,14h0.01v0.01h-0.01z M0,5.5h40v3h-40z';
const dotIcon = 'path://M0,0h0.01v0.01h-0.01z M48,14h0.01v0.01h-0.01z M18,7a2,2 0 1,0 4,0a2,2 0 1,0 -4,0z';
function legend(left, names) {
  return {left, top: 41.7, orient: 'vertical', padding: [2, 10, 6, 7.3], itemGap: 6,
    itemWidth: 48, itemHeight: 14, selectedMode: false,
    backgroundColor: 'rgba(255,255,255,0.8)', borderColor: '#cccccc', borderWidth: 1, borderRadius: 4,
    itemStyle: {borderWidth: 0}, lineStyle: {width: 0},
    data: [{name: names[0], icon: lineIcon}, {name: names[1], icon: dotIcon}, {name: names[2], icon: dotIcon}],
    formatter: n => legendText[n],
    textStyle: {fontFamily: SANS, fontSize: 19, lineHeight: 24, color: '#000', rich: legendRich}};
}

const titleRich = {
  t: {fontFamily: SANS, fontSize: 23.5, fontWeight: 'normal', lineHeight: 28, color: '#000'},
  m: {fontFamily: SERIF, fontSize: 24, fontWeight: 'normal', lineHeight: 28, color: '#000'},
  mi: {fontFamily: SERIF, fontStyle: 'italic', fontWeight: 'normal', fontSize: 24, lineHeight: 28, color: '#000'},
  sub: {fontFamily: SERIF, fontStyle: 'italic', fontWeight: 'normal', fontSize: 16.5, lineHeight: 16, verticalAlign: 'bottom', color: '#000'}
};

const option = {
  animation: false,
  backgroundColor: '#fff',
  title: [
    {text: '{t|(a) All Sub-Neptunes }{m|2 < }{mi|R}{m|/}{mi|R}{sub|E}{m| < 4}', left: gridLefts[0] + GRID_W / 2,
      textAlign: 'center', top: 1, padding: 0, textStyle: {fontWeight: 'normal', rich: titleRich}},
    {text: '{t|(b) Sub-Neptunes }{mi|T}{sub|eq}{m| < 400 }{t|K}', left: gridLefts[1] + GRID_W / 2,
      textAlign: 'center', top: 1, padding: 0, textStyle: {fontWeight: 'normal', rich: titleRich}}
  ],
  grid: gridLefts.map(l => ({left: l, top: GRID_TOP, width: GRID_W, height: GRID_H, show: true,
    borderColor: '#000', borderWidth: 1.3, backgroundColor: 'transparent', containLabel: false, outerBoundsMode: 'none'})),
  xAxis: [majorX(0), minorX(0), majorX(1), minorX(1)],
  yAxis: [majorY(0, true), minorY(0), majorY(1, false), minorY(1)],
  legend: [legend(gridLefts[0] + 8, ['fitA', 'solarA', 'highA']), legend(gridLefts[1] + 8.8, ['fitB', 'solarB', 'highB'])],
  series: [
    scatter('solarA', blueA.concat(blueA2), BLUE, 0, true),
    scatter('highA', redA.concat(redA2), RED, 0, false),
    fitLine('fitA', fitA, 0),
    circles(circlesA, 0), arrows(arrowsA, 0), labels(labelsA, 0, '18.5px "Liberation Sans"'),
    labels(thresholdText, 0, '20px "Liberation Serif"'),
    scatter('solarB', blueB, BLUE, 2, true),
    scatter('highB', redB, RED, 2, false),
    fitLine('fitB', fitB, 2),
    circles(circlesB, 2), arrows(arrowsB, 2), labels(labelsB, 2, '18.5px "Liberation Sans"'),
    labels(thresholdText, 2, '20px "Liberation Serif"')
  ]
};
const chart = echarts.init(document.getElementById('c'), null, {renderer: 'canvas'});
chart.setOption(option);
</script>
</body></html>
